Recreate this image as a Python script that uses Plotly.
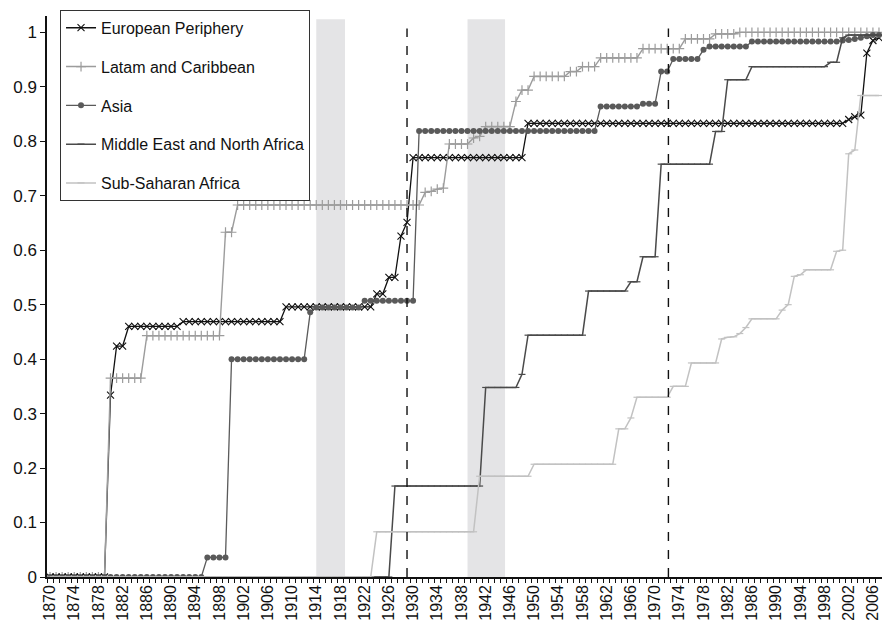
import plotly.graph_objects as go

# Years on the category axis
years = list(range(1870, 2008))

# Share of countries per region (one value per year, 1870-2007)
europe_periphery = ([0.0] * 10 + [0.334] + [0.424] * 2 + [0.46] * 9 + [0.469] * 17
                    + [0.496] * 15 + [0.52] * 2 + [0.55] * 2 + [0.626] + [0.651]
                    + [0.77] * 19 + [0.833] * 53
                    + [0.84, 0.845, 0.848, 0.962, 0.985, 0.99])

latam_caribbean = ([0.0] * 10 + [0.365] * 6 + [0.443] * 13 + [0.633] * 2 + [0.683] * 31
                   + [0.706, 0.708, 0.712, 0.714] + [0.795] * 4 + [0.806, 0.809]
                   + [0.827] * 5 + [0.873] + [0.894] * 2 + [0.919] * 6 + [0.928] * 2
                   + [0.937] * 3 + [0.953] * 7 + [0.97] * 7 + [0.988] * 5
                   + [0.997] * 4 + [1.0] * 24)

asia = ([0.0] * 26 + [0.036] * 4 + [0.40] * 13 + [0.486] + [0.495] * 8 + [0.507] * 9
        + [0.819] * 30 + [0.864] * 7 + [0.869] * 3 + [0.928] * 2 + [0.951] * 5
        + [0.968] + [0.974] * 7 + [0.983] * 15
        + [0.985, 0.986, 0.988, 0.99, 0.993, 0.995, 0.995])

mena = ([0.0] * 57 + [0.167] * 15 + [0.348] * 6 + [0.372] + [0.444] * 10
        + [0.525] * 7 + [0.542] * 2 + [0.588] * 3 + [0.758] * 9 + [0.818] * 2
        + [0.913] * 4 + [0.937] * 13 + [0.945] * 2
        + [0.99, 0.995, 0.995, 0.995, 0.995, 0.995, 0.995])

sub_saharan = ([0.0] * 54 + [0.083] * 17 + [0.185] * 9 + [0.207] * 14 + [0.272] * 2
               + [0.292] + [0.33] * 6 + [0.35] * 3 + [0.393] * 5
               + [0.437, 0.44, 0.441, 0.447, 0.458] + [0.474] * 5 + [0.49, 0.50]
               + [0.552, 0.555] + [0.564] * 5 + [0.598, 0.60, 0.777, 0.784]
               + [0.884] * 4)

# Shaded periods (world wars) and dashed reference years
war_periods = [(1914, 1918.75), (1939, 1945.2)]
reference_years = [1929, 1972.2]

# Tick labels every fourth year
tick_years = list(range(1870, 2008, 4))

FONT = "Liberation Sans, Arial, sans-serif"

fig = go.Figure()

series = [
    ("European Periphery", europe_periphery, "#111111", 1.3,
     dict(symbol="x-thin-open", size=7, line=dict(width=1.1, color="#111111"))),
    ("Latam and Caribbean", latam_caribbean, "#9c9c9c", 1.4,
     dict(symbol="cross-thin-open", size=7, line=dict(width=1.2, color="#9c9c9c"))),
    ("Asia", asia, "#5a5a5a", 1.3,
     dict(symbol="circle", size=6, color="#5a5a5a", line=dict(width=0))),
    ("Middle East and North Africa", mena, "#4a4a4a", 1.5,
     dict(symbol="line-ew-open", size=5, line=dict(width=1.2, color="#4a4a4a"))),
    ("Sub-Saharan Africa", sub_saharan, "#c2c2c2", 1.5,
     dict(symbol="line-ew-open", size=5, line=dict(width=1.2, color="#c2c2c2"))),
]

for i, (name, vals, color, width, marker) in enumerate(series):
    fig.add_trace(go.Scatter(
        x=years, y=vals, name=name, mode="lines+markers",
        line=dict(color=color, width=width),
        marker=marker, legendgroup=f"g{i}",
    ))

shapes = []
for x0, x1 in war_periods:
    shapes.append(dict(type="rect", xref="x", yref="y", x0=x0, x1=x1, y0=0, y1=1.024,
                       fillcolor="#e4e4e6", line=dict(width=0), layer="below"))
for xr in reference_years:
    shapes.append(dict(type="line", xref="x", yref="y", x0=xr, x1=xr, y0=0, y1=1.007,
                       line=dict(color="#111111", width=1.4, dash="dash")))

fig.update_layout(
    width=882, height=631,
    margin=dict(l=47, r=0, t=16, b=54),
    paper_bgcolor="white", plot_bgcolor="white",
    font=dict(family=FONT, size=16, color="#111111"),
    shapes=shapes,
    showlegend=True,
    legend=dict(
        x=0.0156, y=1.011, xanchor="left", yanchor="top",
        bgcolor="white", bordercolor="#333333", borderwidth=1,
        font=dict(family=FONT, size=16, color="#111111"),
        traceorder="grouped", tracegroupgap=15, itemwidth=30,
    ),
)

fig.update_xaxes(
    range=[1869.5, 2007.5],
    tickmode="array", tickvals=tick_years, ticktext=[str(y) for y in tick_years],
    tickangle=-90, ticks="", showgrid=False, zeroline=False,
    showline=True, linecolor="#111111", linewidth=1.5,
    tickfont=dict(family=FONT, size=16, color="#111111"),
    minor=dict(ticks="outside", tickmode="linear", tick0=1869.5, dtick=1,
               ticklen=4, tickcolor="#111111", tickwidth=1, showgrid=False),
)

fig.update_yaxes(
    range=[0, 1.03], tickmode="linear", tick0=0, dtick=0.1,
    ticks="outside", ticklen=5, tickcolor="#111111", tickwidth=1,
    showgrid=False, zeroline=False,
    showline=True, linecolor="#111111", linewidth=1.5,
    tickfont=dict(family=FONT, size=17, color="#111111"),
)

fig.write_html("out.html")
